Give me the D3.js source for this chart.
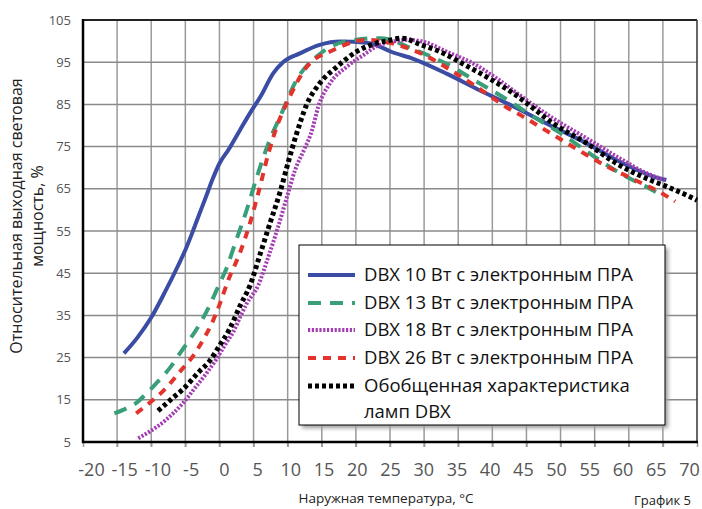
<!DOCTYPE html>
<html><head><meta charset="utf-8">
<script src="https://cdn.jsdelivr.net/npm/d3@7"></script>
<style>body{margin:0;background:#fff;}svg{display:block;}</style>
</head><body>
<script>
// ---- data ----
const xTicks = [-20,-15,-10,-5,0,5,10,15,20,25,30,35,40,45,50,55,60,65,70];
const yTicks = [5,15,25,35,45,55,65,75,85,95,105];

const tBlue = [-14,-12,-10,-8,-6,-5,-4,-3,-2,-1,0,1.3,3,4.5,6,7.9,9.4,11.8,14.7,17.7,21.6,23.5,25,28.4,33.3,38.2,43.1,48.9,53.8,58.7,63.6,65.5];
const vBlue = [26,29.8,34.5,40.5,47,50.5,54.5,58.8,63,67.3,71,74.2,78.9,83,86.8,92.4,95.1,97.1,99.1,99.9,99.6,98.7,97.6,95.8,92.3,88.3,84.5,79.7,75.8,71.4,67.9,67.1];

const tGreen = [-15.4,-13.7,-12,-10.7,-9.5,-7.3,-5.8,-4.4,-3.4,-1.4,0,1,2.3,4,5.5,7.4,8.9,11.3,14.3,18.7,23.5,28.7,33.3,37.5,41.9,46,50.4,54.6,58.7,62.9,64];
const vGreen = [11.8,12.9,14.5,16.5,18.5,22.5,26,29.2,31.6,37.5,42.5,46,52.1,60,67.9,76.7,82.1,90.8,96.4,100,100.7,97.9,94.6,90.6,86.4,82.1,77.8,73,68.7,65.2,64.2];

const tPurple = [-11.9,-10.2,-7.8,-5.35,-3.4,-1.9,-0.5,1,2,3,4,5.7,7.17,8.6,9.9,11.1,12.5,13.5,14.5,16.2,18.65,21.1,23.5,27.9,30.4,33.3,37.2,40.6,44,48.9,53.8,58.7,62.6,65.3];
const vPurple = [5.9,7.5,10.3,14.2,18.2,21.3,24.5,28.5,31,34.5,37.8,42.2,48.9,56,63.1,69.5,74.6,78.5,84.5,90,93.9,96.7,99.1,100.3,99.6,97.5,94.7,91.2,87.2,81.7,77,72.2,68.7,67.1];

const tRed = [-12.2,-10,-8.3,-5.35,-3.9,-2.4,-1.2,0,1.3,3,4.5,5.7,7.2,8,10.3,12.8,16.7,21.6,23.5,25.7,30.4,34.5,38.4,42.3,44.5,48.5,52.6,56.8,60.9,65.3,66.8];
const vRed = [11.8,14.6,17,22.5,25.3,29.2,32.8,37.5,43.4,49.8,57,64,73.5,77.8,86.8,93.9,97.9,100.3,100,99.3,96.4,92.5,88.4,84.1,82.1,78.2,74.2,70.3,67.1,63.5,62];

const tBlack = [-9,-6.8,-5.35,-2.9,-1.44,0,1.5,3,4.5,6,7.4,8.9,10.1,11.2,12.8,14.7,17.2,20.1,23,25,26.7,29.6,32.3,36.5,39.9,43.1,44.8,48.9,53.8,58.2,63.1,65,69.5,70];
const vBlack = [12.4,15.5,17.5,21.8,24.2,27.8,31.8,37.2,42.2,49.7,56.8,64.3,71.4,77.5,85,90,93.9,97.5,99.5,100.2,100.7,99.1,97.5,93.9,90.8,87.6,85.6,80.5,75.8,71,67.1,65.9,62.7,62.3];

const seriesNames = [
  "DBX 10 Вт с электронным ПРА",
  "DBX 13 Вт с электронным ПРА",
  "DBX 18 Вт с электронным ПРА",
  "DBX 26 Вт с электронным ПРА",
  "Обобщенная характеристика|ламп DBX"
];
const xTitle = "Наружная температура, °C";
const yTitle = ["Относительная выходная световая", "мощность, %"];
const caption = "График 5";

// ---- styles ----
const styles = [
  {color:"#3a4ca3", width:4, dash:null},
  {color:"#3a9e78", width:4, dash:"13,9"},
  {color:"#a43cb3", width:4, dash:"2.2,1.6"},
  {color:"#e2332c", width:4, dash:"8,7"},
  {color:"#000000", width:5, dash:"4,3"}
];
const data = [[tBlue,vBlue],[tGreen,vGreen],[tPurple,vPurple],[tRed,vRed],[tBlack,vBlack]];

const W=702,H=509;
const L=83,R=697,T=20,B=442;
const svg = d3.select("body").append("svg").attr("width",W).attr("height",H);
const font = "'Open Sans', sans-serif";

const x = d3.scaleLinear().domain([-20,70]).range([L,R]);
const xl = d3.scaleLinear().domain([-20,70]).range([91,689]);
const y = d3.scaleLinear().domain([5,105]).range([B,T]);

// grid
const g = svg.append("g");
g.selectAll(".vg").data(xTicks.slice(1,-1)).join("line")
  .attr("x1",d=>x(d)).attr("x2",d=>x(d)).attr("y1",T).attr("y2",B+5)
  .attr("stroke","#9a9a9a").attr("stroke-width",1.5);
g.selectAll(".hg").data(yTicks.slice(1,-1)).join("line")
  .attr("x1",L).attr("x2",R).attr("y1",d=>y(d)).attr("y2",d=>y(d))
  .attr("stroke","#8a8a8a").attr("stroke-width",1.5);

// border
svg.append("line").attr("x1",L).attr("x2",R).attr("y1",T).attr("y2",T).attr("stroke","#222").attr("stroke-width",2);
svg.append("line").attr("x1",R).attr("x2",R).attr("y1",T).attr("y2",B).attr("stroke","#333").attr("stroke-width",1.5);

// x axis
const xAxis = svg.append("g").attr("transform",`translate(0,${B})`)
  .call(d3.axisBottom(x).tickValues(xTicks).tickSize(5).tickFormat(""));
xAxis.select(".domain").remove();
xAxis.selectAll("line").attr("stroke","#999").attr("stroke-width",1.5);
const xLab = svg.append("g").attr("transform",`translate(0,${B})`)
  .call(d3.axisBottom(xl).tickValues(xTicks).tickSize(0).tickPadding(21).tickFormat(d=>String(d)));
xLab.select(".domain").remove();
xLab.selectAll("text").attr("font-family",font).attr("font-size",18).attr("fill","#555");

// y axis
const yAxis = svg.append("g").attr("transform",`translate(${L},0)`)
  .call(d3.axisLeft(y).tickValues(yTicks).tickSize(0).tickPadding(12));
yAxis.select(".domain").remove();
yAxis.selectAll("text").attr("font-family",font).attr("font-size",13).attr("fill","#555");

// left & bottom axis lines
svg.append("line").attr("x1",L).attr("x2",L).attr("y1",T-1).attr("y2",B+1).attr("stroke","#000").attr("stroke-width",2.5);
svg.append("line").attr("x1",L-1).attr("x2",R+1).attr("y1",B).attr("y2",B).attr("stroke","#000").attr("stroke-width",2.5);

// curves
const line = d3.line().x(d=>x(d[0])).y(d=>y(d[1])).curve(d3.curveMonotoneX);
data.forEach((s,i)=>{
  const pts = s[0].map((t,j)=>[t,s[1][j]]);
  svg.append("path").datum(pts).attr("d",line).attr("fill","none")
    .attr("stroke",styles[i].color).attr("stroke-width",styles[i].width)
    .attr("stroke-dasharray",styles[i].dash);
});

// legend
const defs = svg.append("defs");
const f = defs.append("filter").attr("id","sh").attr("x","-10%").attr("y","-10%").attr("width","130%").attr("height","130%");
f.append("feGaussianBlur").attr("stdDeviation",2);
const lg = svg.append("g");
lg.append("rect").attr("x",302).attr("y",248).attr("width",366).attr("height",180).attr("fill","#999").attr("filter","url(#sh)");
lg.append("rect").attr("x",299).attr("y",245).attr("width",366).attr("height",180).attr("fill","#fff").attr("stroke","#000").attr("stroke-width",1);
const rowsY = [275,303,330,358,386];
seriesNames.forEach((n,i)=>{
  lg.append("line").attr("x1",308).attr("x2",355).attr("y1",rowsY[i]).attr("y2",rowsY[i])
    .attr("stroke",styles[i].color).attr("stroke-width",styles[i].width).attr("stroke-dasharray",styles[i].dash);
  const parts = n.split("|");
  parts.forEach((p,k)=>{
    lg.append("text").attr("x",364).attr("y",rowsY[i]+6+k*26).text(p)
      .attr("font-family",font).attr("font-size",18.5).attr("fill","#111");
  });
});

// titles
svg.append("text").attr("x",386).attr("y",503).attr("text-anchor","middle").text(xTitle)
  .attr("font-family",font).attr("font-size",13.5).attr("fill","#222");
yTitle.forEach((t,k)=>{
  svg.append("text").attr("transform",`translate(${22+k*21},216) rotate(-90)`).attr("text-anchor","middle").text(t)
    .attr("font-family",font).attr("font-size",16).attr("fill","#222");
});
svg.append("text").attr("x",634).attr("y",505).text(caption)
  .attr("font-family",font).attr("font-size",13).attr("fill","#222");
</script>
</body></html>
